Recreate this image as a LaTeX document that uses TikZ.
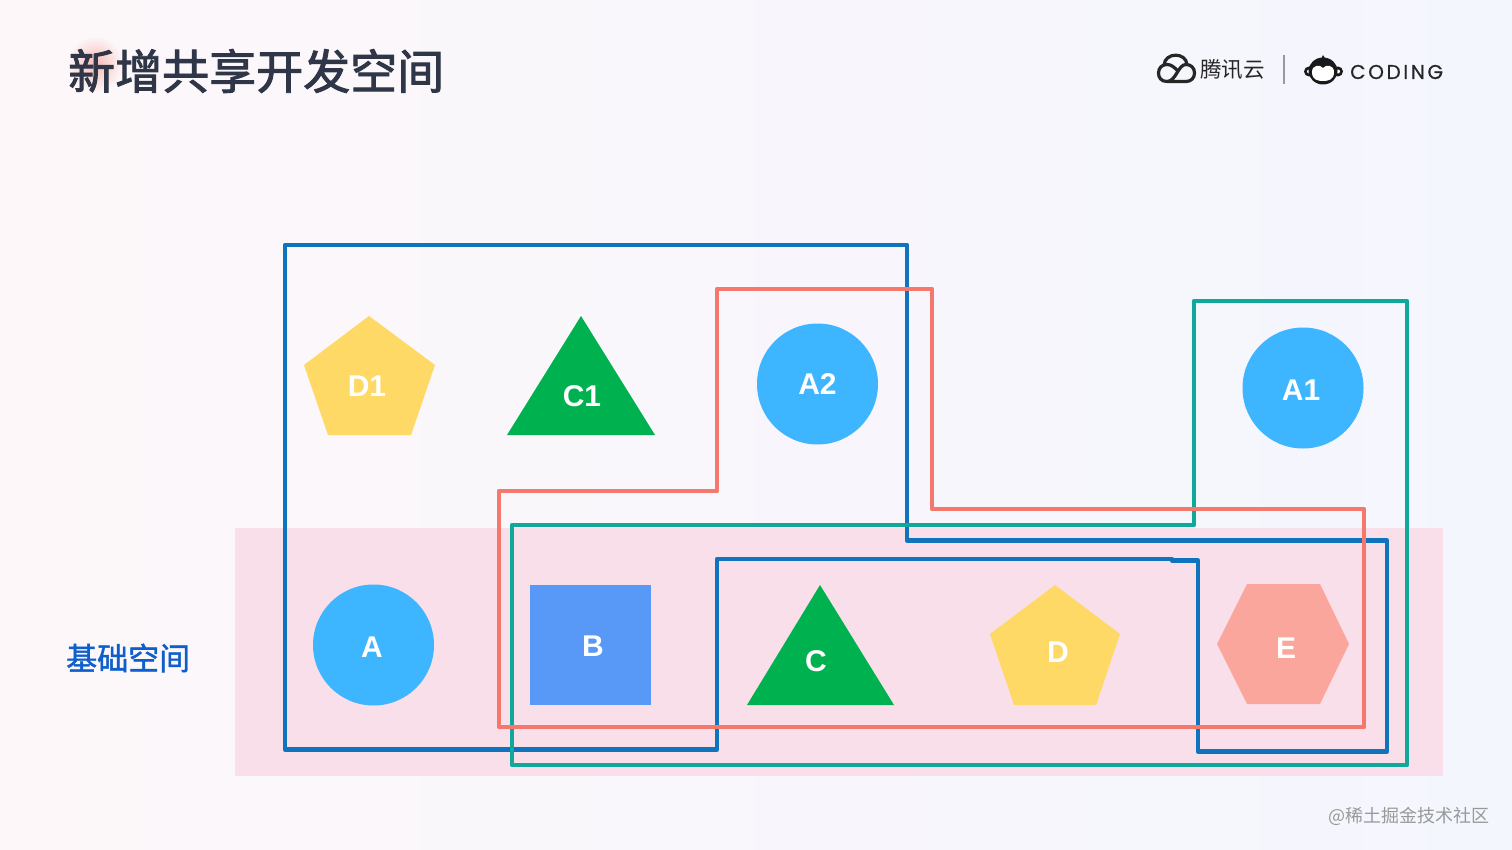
\documentclass[tikz,border=0pt]{standalone}
\usepackage{fontspec}
\setmainfont{Liberation Sans}
\newfontfamily\cjk{Noto Sans CJK SC}
\newfontfamily\cjktitle[FakeBold=2]{Noto Sans CJK SC}
\newfontfamily\cjkbase[FakeBold=1.5]{Noto Sans CJK SC}
\newfontfamily\codingfont[LetterSpace=13,FakeBold=0.6]{Poppins}
\usetikzlibrary{positioning}
\definecolor{bandpink}{HTML}{F9DFEA}
\definecolor{zoneblue}{HTML}{0F74BC}
\definecolor{zonered}{HTML}{F6786C}
\definecolor{zoneteal}{HTML}{10A89B}
\definecolor{skyblue}{HTML}{3DB5FF}
\definecolor{squareblue}{HTML}{5899F8}
\definecolor{leafgreen}{HTML}{00B14F}
\definecolor{sunyellow}{HTML}{FFD966}
\definecolor{hexpink}{HTML}{FBA69C}
\definecolor{titlegray}{HTML}{2E3647}
\definecolor{basicblue}{HTML}{0E5FCB}
\definecolor{pagepink}{HTML}{FDF7F9}
\definecolor{pageblue}{HTML}{F4F6FE}
\definecolor{glowpink}{HTML}{F6B9B3}
\begin{document}
\begin{tikzpicture}[x=1pt, y=-1pt,
  zone/.style={line width=4.6pt, line join=round},
  circ/.style={circle, fill=skyblue, minimum size=121pt, inner sep=0pt},
  lbl/.style={text=white, font=\fontsize{30}{30}\selectfont\bfseries, inner sep=0pt},
  logo/.style={line width=3.2pt, black!85}
]
\shade[left color=pagepink, right color=pageblue] (0,0) rectangle (1512,850);
\shade[inner color=glowpink, outer color=pagepink] (95,64) circle (28);
\fill[bandpink] (235,528) rectangle (1443,776);

\node[anchor=west, inner sep=0pt, text=titlegray, font=\fontsize{47}{47}\selectfont\cjktitle] (title) at (68,71) {新增共享开发空间};
\node[anchor=west, inner sep=0pt, text=basicblue, font=\fontsize{31}{31}\selectfont\cjkbase] (base) at (66,658) {基础空间};
\node[anchor=east, inner sep=0pt, text=black!40, font=\fontsize{18}{18}\selectfont\cjk] (mark) at (1490,816) {@稀土掘金技术社区};

\fill[sunyellow] (369,316) -- (435,365) -- (411,435) -- (328,435) -- (304,365) -- cycle;
\fill[leafgreen] (581,316) -- (655,435) -- (507,435) -- cycle;
\fill[squareblue] (530,585) rectangle (651,705);
\fill[leafgreen] (820,585) -- (894,705) -- (747,705) -- cycle;
\fill[sunyellow] (1055,585) -- (1120,634) -- (1096,705) -- (1014,705) -- (990,634) -- cycle;
\fill[hexpink] (1217,644) -- (1247,584) -- (1320,584) -- (1349,644) -- (1320,704) -- (1247,704) -- cycle;
\node[circ] (a2) at (817.5,384) {};
\node[circ] (a1) at (1303,388) {};
\node[circ] (a) at (373.5,645) {};

\node[lbl] (d1t) at (367,386) {D1};
\node[lbl] (c1t) at (582,396) {C1};
\node[lbl] at (a2) {A2};
\node[lbl] at (1301,390) {A1};
\node[lbl] at (372,647) {A};
\node[lbl] (bt) at (593,646) {B};
\node[lbl] (ct) at (816,661) {C};
\node[lbl] (dt) at (1058,652) {D};
\node[lbl] (et) at (1286,648) {E};

\draw[zone, zoneblue] (285,245) -- (907,245) -- (907,540.5) -- (1387,540.5) -- (1387,751.5) -- (1198,751.5)
  -- (1198,560.5) -- (1172,560.5) -- (1172,559) -- (717,559) -- (717,749.5) -- (285,749.5) -- cycle;
\draw[zone, zoneteal] (1194,301) -- (1407,301) -- (1407,765) -- (512,765) -- (512,525) -- (1194,525) -- cycle;
\draw[zone, zonered] (717,289) -- (932,289) -- (932,509) -- (1364,509) -- (1364,727) -- (499,727) -- (499,491) -- (717,491) -- cycle;

\draw[logo] (1167,81.5) .. controls (1161,81.5) and (1158.5,77.5) .. (1158.5,73) .. controls (1158.5,68) and (1162,64.5) .. (1167,64.5)
  .. controls (1171,64.5) and (1174,67) .. (1178,71)
  (1167,81.5) -- (1186,81.5) .. controls (1191,81.5) and (1194.5,78) .. (1194.5,73) .. controls (1194.5,68) and (1191,64.5) .. (1186,64.5)
  .. controls (1178,64.5) and (1176,81.5) .. (1167,81.5)
  (1164,65) .. controls (1165,52) and (1186,52) .. (1187,64.5);
\node[anchor=west, inner sep=0pt, text=black!85, font=\fontsize{21.5}{21.5}\selectfont\cjk] (tencent) at (1200,70) {腾讯云};
\draw[black!40, line width=1.2pt] (1284,55) -- (1284,84);

\fill[black!90] (1309,71.5) circle (5) (1338,71.5) circle (5);
\fill[white] (1309,71.5) circle (2) (1338,71.5) circle (2);
\fill[black!90] (1323,71) ellipse (14.5 and 13.5);
\fill[black!90] (1313,63) .. controls (1317,62) and (1322,60) .. (1323,55) .. controls (1325,60) and (1330,62) .. (1334,63) -- cycle;
\fill[white] (1323,68) .. controls (1320,64) and (1312,65) .. (1312,72) .. controls (1312,80) and (1318,81) .. (1323,81)
  .. controls (1328,81) and (1334,80) .. (1334,72) .. controls (1334,65) and (1326,64) .. (1323,68) -- cycle;
\node[anchor=west, inner sep=0pt, text=black!85, font=\fontsize{20}{20}\selectfont\codingfont] (coding) at (1350,72) {CODING};
\end{tikzpicture}
\end{document}
